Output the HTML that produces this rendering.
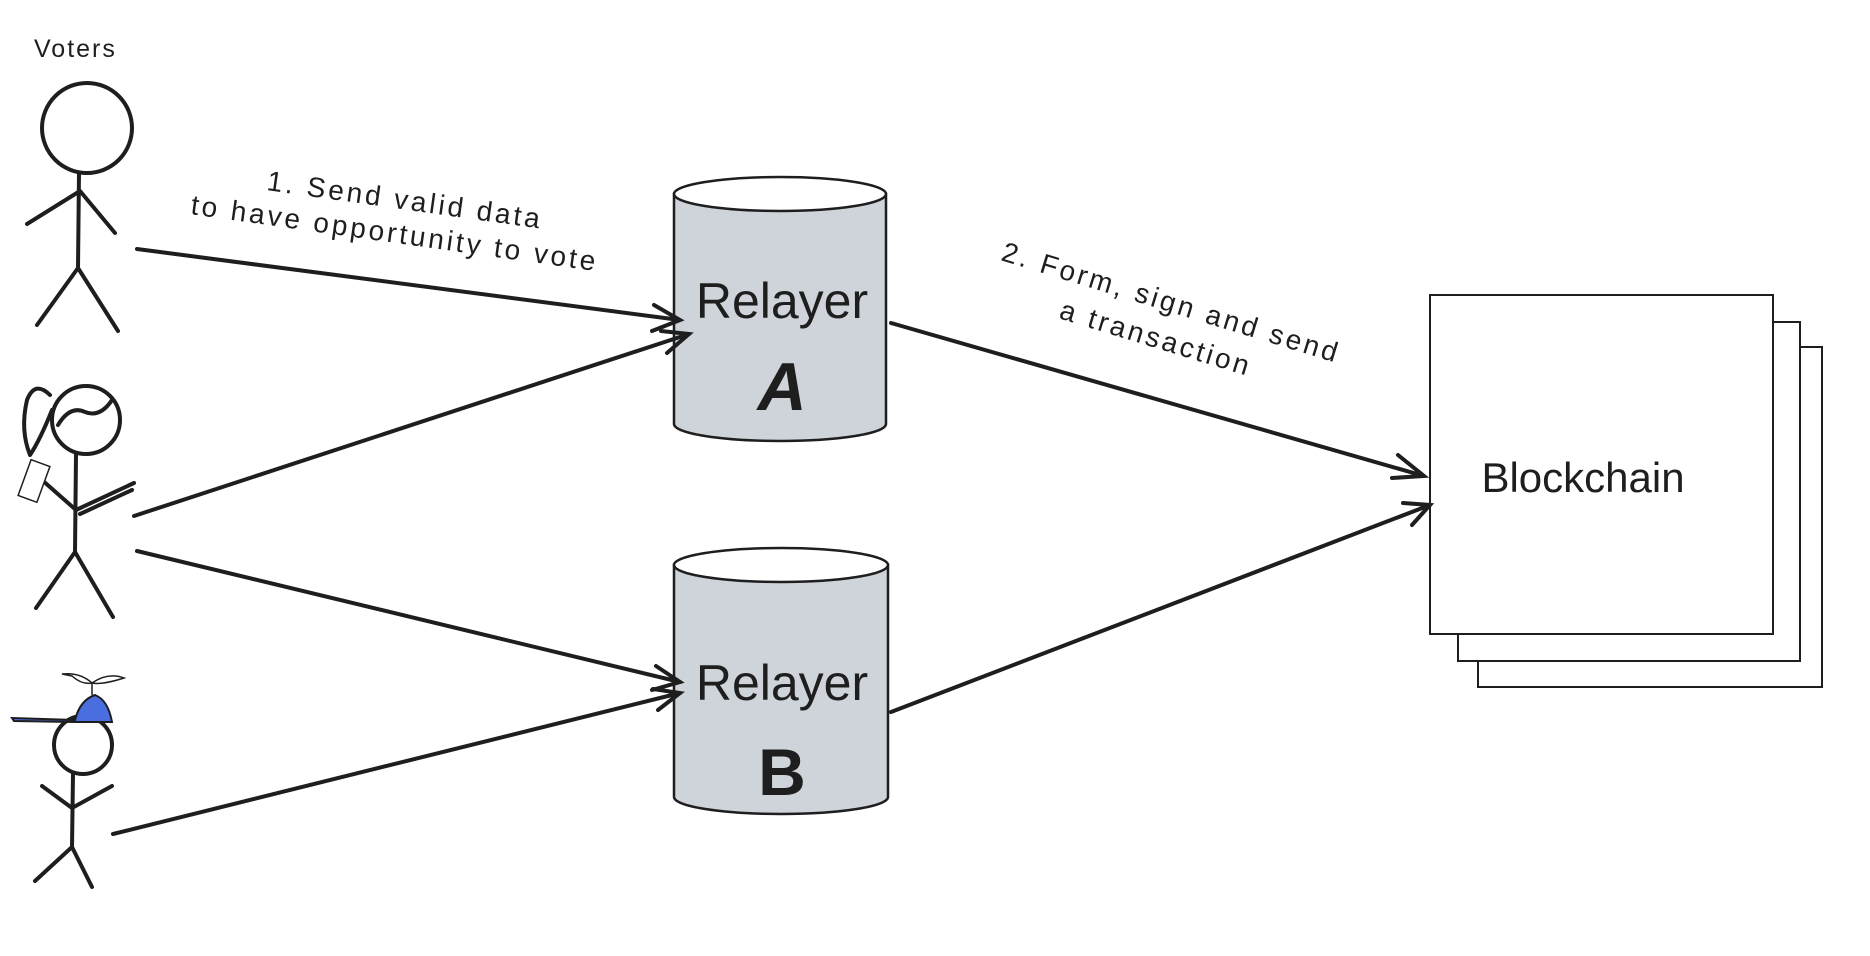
<!DOCTYPE html>
<html><head><meta charset="utf-8"><style>
html,body{margin:0;padding:0;background:#fff;}
svg{display:block;}
text{font-family:"Liberation Sans",sans-serif;fill:#1e1e1e;}
</style></head><body>
<svg width="1870" height="956" viewBox="0 0 1870 956" xmlns="http://www.w3.org/2000/svg">
<g stroke="#1e1e1e" stroke-width="4" fill="none" stroke-linecap="round" stroke-linejoin="round">
<circle cx="87" cy="128" r="45"/>
<path d="M79 173 L78 268 M27 224 L80 191 L115 233 M37 325 L78 268 L118 331"/>
<circle cx="86" cy="420" r="34"/>
<path d="M58 425 Q70 405 85 412 Q100 418 112 400" />
<path d="M50 395 Q35 380 27 400 Q20 430 30 455 Q40 440 52 410"/>
<path d="M76 455 L75 552 M42 480 L76 510 L134 483 M80 514 L132 490 M36 608 L75 552 L113 617"/>
<circle cx="83" cy="745" r="29"/>
<path d="M73 774 L72 847 M42 786 L72 808 L112 786 M35 881 L72 847 L92 887"/>
</g>
<rect x="24" y="462" width="20" height="38" transform="rotate(20 34 481)" fill="#fff" stroke="#1e1e1e" stroke-width="1.5"/>
<path d="M12 718 L75 720 Q80 700 95 695 Q108 700 112 722 L75 722 L14 721 Z" fill="#4a6ee0" stroke="#1e1e1e" stroke-width="2"/>
<path d="M92 695 L92 683 M72 676 Q82 685 92 683 Q102 685 124 678 Q108 672 92 683 Q80 672 62 674 Z" fill="#fff" stroke="#1e1e1e" stroke-width="1.5"/>
<text x="34" y="57" font-size="25" letter-spacing="2">Voters</text>
<g stroke="#1e1e1e" stroke-width="2.5">
<path d="M674 194 L674 424 A106 17 0 0 0 886 424 L886 194 Z" fill="#ced4da"/>
<ellipse cx="780" cy="194" rx="106" ry="17" fill="#fff"/>
<path d="M674 565 L674 797 A107 17 0 0 0 888 797 L888 565 Z" fill="#ced4da"/>
<ellipse cx="781" cy="565" rx="107" ry="17" fill="#fff"/>
</g>
<text x="782" y="318" font-size="50" text-anchor="middle">Relayer</text>
<text x="782" y="410" font-size="68" text-anchor="middle" font-style="italic" font-weight="bold">A</text>
<text x="782" y="700" font-size="50" text-anchor="middle">Relayer</text>
<text x="782" y="795" font-size="66" text-anchor="middle" font-weight="bold">B</text>
<g fill="#fff" stroke="#1e1e1e" stroke-width="2">
<rect x="1478" y="347" width="344" height="340"/>
<rect x="1458" y="322" width="342" height="339"/>
<rect x="1430" y="295" width="343" height="339"/>
</g>
<text x="1583" y="492" font-size="42" text-anchor="middle">Blockchain</text>
<g stroke="#1e1e1e" stroke-width="4" fill="none" stroke-linecap="round">
<path d="M137 249 L680 320 M654 305 L680 320 L652 331"/>
<path d="M134 516 L689 334 M661 331 L689 334 L667 353"/>
<path d="M137 551 L680 682 M656 666 L680 682 L652 690"/>
<path d="M113 834 L680 693 M653 689 L680 693 L658 710"/>
<path d="M891 323 L1424 476 M1398 455 L1424 476 L1392 478"/>
<path d="M891 712 L1430 505 M1403 503 L1430 505 L1412 525"/>
</g>
<g font-size="28" letter-spacing="3">
<text transform="translate(266,190) rotate(8)">1. Send valid data</text>
<text transform="translate(190,214) rotate(8)">to have opportunity to vote</text>
<text transform="translate(1000,260) rotate(17)">2. Form, sign and send</text>
<text transform="translate(1058,318) rotate(17)">a transaction</text>
</g>
</svg>
</body></html>
